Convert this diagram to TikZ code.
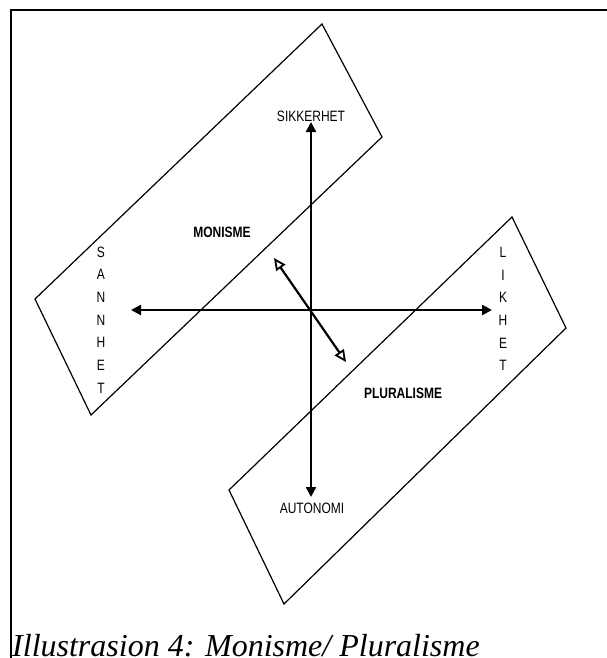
\documentclass[tikz,border=0pt]{standalone}
\usepackage{fontspec}
\usetikzlibrary{arrows.meta}
\newfontfamily\lab[FakeStretch=0.8]{Liberation Sans}
\newfontfamily\capfont{Liberation Serif}
\tikzset{
  frameline/.style={line width=2pt},
  panel/.style={line width=1.2pt, line join=miter},
  axis/.style={line width=2.4pt, {Triangle[length=10pt,width=10pt]}-{Triangle[length=10pt,width=10pt]}},
  diagaxis/.style={line width=2.2pt, {Triangle[open,length=12pt,width=11pt,line width=1.8pt]}-{Triangle[open,length=12pt,width=11pt,line width=1.8pt]}},
  axislabel/.style={font=\lab\fontsize{15}{18}\selectfont, inner sep=0pt},
  boldlabel/.style={font=\lab\bfseries\fontsize{15}{18}\selectfont, inner sep=0pt},
  vertlabel/.style={font=\lab\fontsize{15}{22.7}\selectfont, align=center, inner sep=0pt},
}
\begin{document}
\begin{tikzpicture}[x=1pt,y=-1pt]
\useasboundingbox (0,0) rectangle (607,658);
\clip (0,0) rectangle (607,658);
% frame
\draw[frameline] (11,10) rectangle (640,700);
% panels
\coordinate (UT) at (322,24);
\coordinate (UR) at (382,137);
\coordinate (UB) at (91,415);
\coordinate (UL) at (35,299);
\draw[panel] (UT) -- (UR) -- (UB) -- (UL) -- cycle;
\coordinate (LT) at (512,217);
\coordinate (LR) at (566,328);
\coordinate (LB) at (284,604);
\coordinate (LL) at (229,490);
\draw[panel] (LT) -- (LR) -- (LB) -- (LL) -- cycle;
% axes
\coordinate (O) at (311,310);
\coordinate (W) at (131,310);
\coordinate (E) at (492,310);
\coordinate (N) at (311,122);
\coordinate (S) at (311,497);
\coordinate (NW) at (274,258);
\coordinate (SE) at (346,362);
\draw[axis] (W) -- (E);
\draw[axis] (N) -- (S);
\draw[diagaxis] (NW) -- (SE);
% labels
\node[axislabel] (sik) at (311,116) {SIKKERHET};
\node[axislabel] (aut) at (312,508) {AUTONOMI};
\node[boldlabel] (mon) at (222,232) {MONISME};
\node[boldlabel] (plu) at (403,393) {PLURALISME};
\node[vertlabel] (san) at (101,320) {S\\A\\N\\N\\H\\E\\T};
\node[vertlabel] (lik) at (503,309) {L\\I\\K\\H\\E\\T};
% caption
\node[anchor=base west, inner sep=0pt, font=\capfont\itshape\fontsize{32}{36}\selectfont] (cap) at (12,656) {Illustrasion 4: Monisme/ Pluralisme};
\end{tikzpicture}
\end{document}
